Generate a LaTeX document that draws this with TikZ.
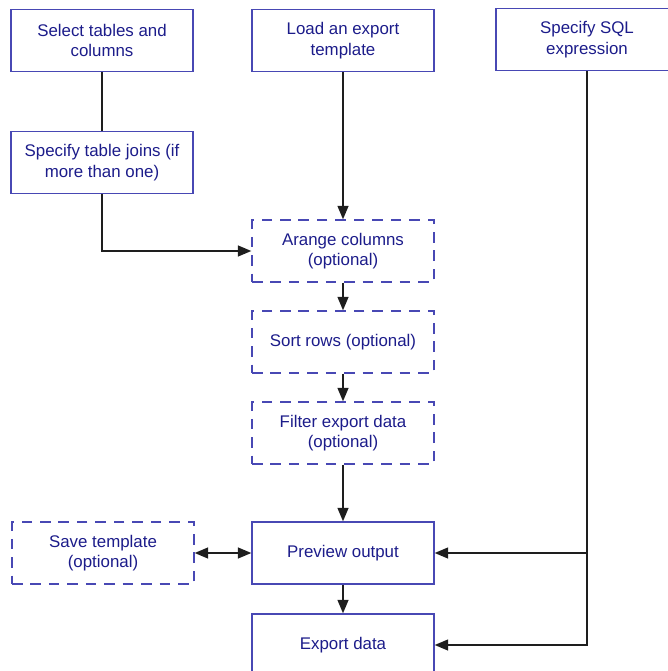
\documentclass[tikz,border=0pt]{standalone}
\usepackage{fontspec}
\setmainfont{Liberation Sans}
\usetikzlibrary{arrows.meta,positioning}
\definecolor{flowEdge}{HTML}{4848B4}
\definecolor{flowText}{HTML}{1C1C8A}
\definecolor{flowLine}{HTML}{1E1E1E}

\begin{document}
\begin{tikzpicture}[x=0.02cm, y=-0.02cm,
  every node/.style ={font=\fontsize{9.6}{11.6}\selectfont, text=flowText, align=center},
  task/.style       ={draw=flowEdge, line width=0.8pt, minimum width=3.64cm, minimum height=1.24cm, inner sep=2pt},
  opttask/.style    ={task, dash pattern=on 6pt off 4.5pt},
  link/.style       ={line width=0.8pt, flowLine},
  flow/.style       ={link, -{Triangle[length=0.27cm, width=0.22cm]}},
  twoway/.style     ={link, {Triangle[length=0.27cm, width=0.22cm]}-{Triangle[length=0.27cm, width=0.22cm]}},
]
\useasboundingbox (0,0) rectangle (667,671);

% top row
\node[task] (sel)  at (102,40.5) {Select tables and\\columns};
\node[task] (load) at (343,40.5) {Load an export\\template};
\node[task] (sql)  at (587,39.5) {Specify SQL\\expression};

% left column
\node[task] (join) at (102,162.5) {Specify table joins (if\\more than one)};

% optional steps
\node[opttask] (arr)  at (343,251) {Arange columns\\(optional)};
\node[opttask] (sort) at (343,342) {Sort rows (optional)};
\node[opttask] (filt) at (343,433) {Filter export data\\(optional)};
\node[opttask] (save) at (103,553) {Save template\\(optional)};

% output
\node[task] (prev) at (343,553) {Preview output};
\node[task] (exp)  at (343,645) {Export data};

\draw[link] (sel) -- (join);
\draw[flow] (join.south) |- (arr.west);
\draw[flow] (load) -- (arr);
\draw[flow] (arr) -- (sort);
\draw[flow] (sort) -- (filt);
\draw[flow] (filt) -- (prev);
\draw[twoway] (save) -- (prev);
\draw[flow] (prev) -- (exp);
\coordinate (tee) at (sql.south |- prev.east);
\draw[flow] (sql.south) |- (exp.east);
\draw[flow] (tee) -- (prev.east);

\end{tikzpicture}
\end{document}
